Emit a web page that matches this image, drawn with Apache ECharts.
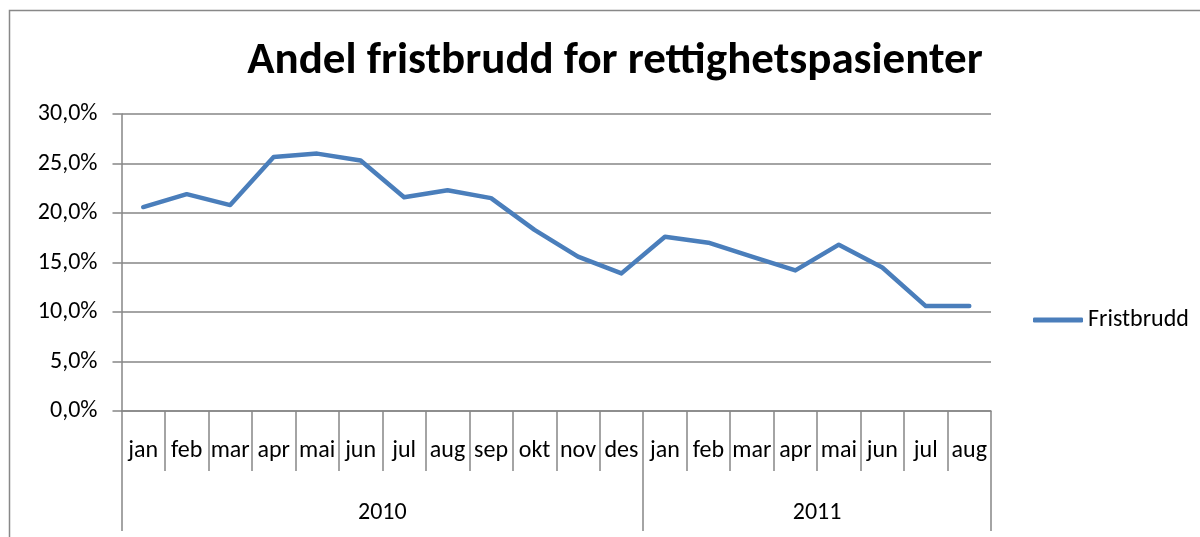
<!DOCTYPE html>
<html>
<head>
<meta charset="utf-8">
<script src="https://cdn.jsdelivr.net/npm/echarts@6/dist/echarts.min.js"></script>
<style>html,body{margin:0;padding:0;background:#fff;}#c{width:1200px;height:537px;}</style>
</head>
<body>
<div id="c"></div>
<script>
const months = ['jan','feb','mar','apr','mai','jun','jul','aug','sep','okt','nov','des','jan','feb','mar','apr','mai','jun','jul','aug'];
const years = ['2010','2011'];
const yearBounds = [0, 12, 20];
const yearCenters = [6, 16];
const fristbrudd = [20.6,21.9,20.8,25.65,26.0,25.3,21.6,22.3,21.5,18.3,15.6,13.9,17.6,17.0,15.6,14.2,16.8,14.5,10.6,10.6];
const yMin = 0, yMax = 30, yStep = 5;

const FONT = 'Carlito, Lato, "Open Sans", sans-serif';
const gridColor = '#868686';
const chart = echarts.init(document.getElementById('c'), null, {renderer:'canvas'});
chart.setOption({
  animation: false,
  backgroundColor: '#fff',
  title: {
    text: 'Andel fristbrudd for rettighetspasienter',
    left: 610, top: 34, textAlign: 'center',
    textStyle: {fontFamily: FONT, fontWeight: 'bold', fontSize: 45, color: '#000'}
  },
  graphic: [{
    type: 'rect', shape: {x: 9.5, y: 10.5, width: 1300, height: 700},
    style: {fill: 'none', stroke: '#888', lineWidth: 1.5}, z: -10
  }],
  legend: {
    left: 1028, top: 303, orient: 'vertical',
    icon: 'roundRect',
    itemWidth: 50, itemHeight: 5, itemGap: 4,
    textStyle: {fontFamily: FONT, fontSize: 24, color: '#000'},
    data: ['Fristbrudd']
  },
  grid: {left: 121.5, right: 209, top: 114, bottom: 126, containLabel: false},
  xAxis: [{
    type: 'category', data: months, boundaryGap: true, position: 'bottom',
    axisLine: {show: true, lineStyle: {color: gridColor, width: 1.5}},
    axisTick: {show: true, interval: 0, length: 60, lineStyle: {color: gridColor, width: 1.5}},
    axisLabel: {show: true, interval: 0, margin: 28, fontFamily: FONT, fontSize: 24, color: '#000'},
    splitLine: {show: false}
  }, {
    type: 'value', min: 0, max: 20, position: 'bottom',
    axisLine: {show: false},
    axisTick: {show: true, customValues: yearBounds, length: 120, lineStyle: {color: gridColor, width: 1.5}},
    axisLabel: {customValues: yearCenters, margin: 90, fontFamily: FONT, fontSize: 24, color: '#000',
      formatter: v => years[yearCenters.indexOf(v)] || ''},
    splitLine: {show: false}
  }],
  yAxis: {
    type: 'value', min: yMin, max: yMax, interval: yStep,
    axisLine: {show: true, lineStyle: {color: gridColor, width: 1.5}},
    axisTick: {show: true, length: 9, lineStyle: {color: gridColor, width: 1.5}},
    axisLabel: {margin: 24, fontFamily: FONT, fontSize: 24, color: '#000',
      formatter: v => v.toFixed(1).replace('.', ',') + '%'},
    splitLine: {show: true, lineStyle: {color: gridColor, width: 1.5}}
  },
  series: [{
    name: 'Fristbrudd', type: 'line', data: fristbrudd, xAxisIndex: 0,
    symbol: 'none', smooth: false,
    lineStyle: {color: '#4a7ebb', width: 4.5, cap: 'round', join: 'round'},
    itemStyle: {color: '#4a7ebb'}
  }]
});
</script>
</body>
</html>
